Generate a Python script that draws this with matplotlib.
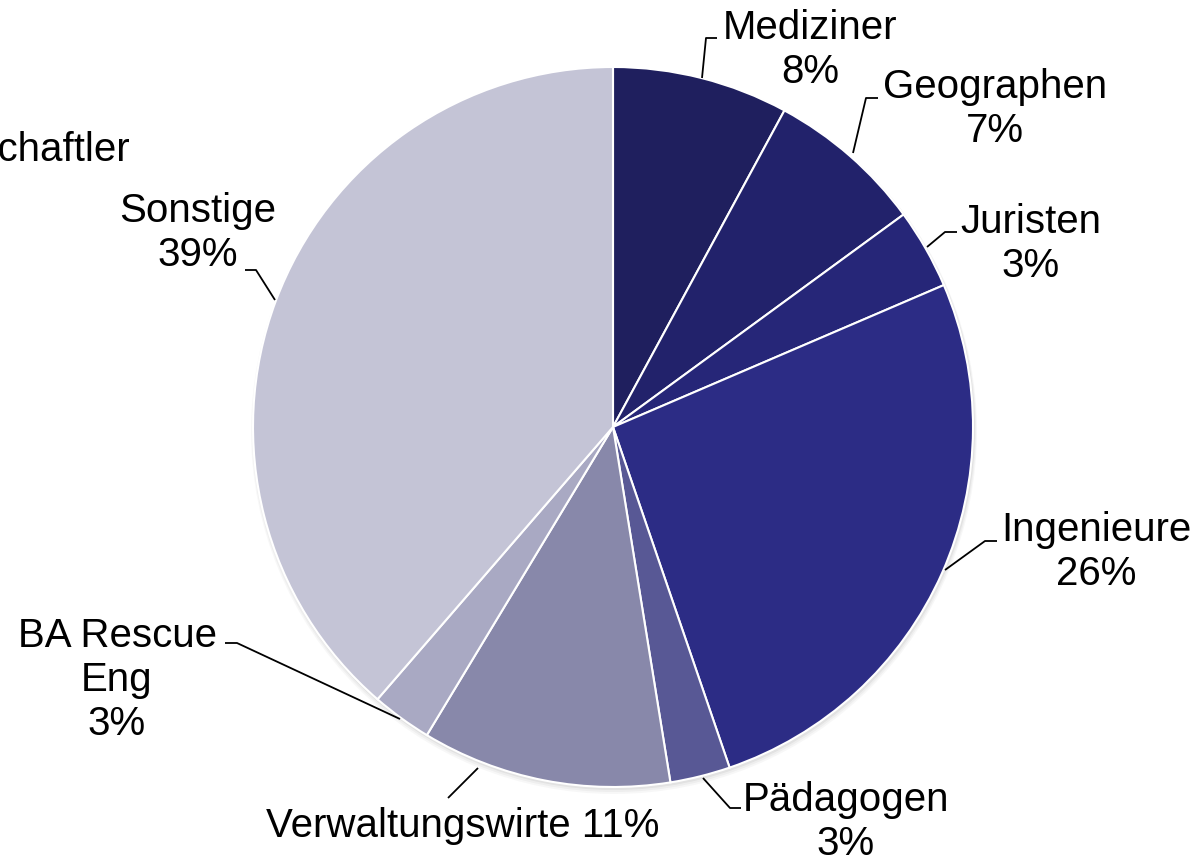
import matplotlib
matplotlib.use("Agg")
import matplotlib.pyplot as plt
from matplotlib.patches import Circle

plt.rcParams['font.family'] = ['Liberation Sans', 'DejaVu Sans']

categories = ["Mediziner", "Geographen", "Juristen", "Ingenieure", "Pädagogen",
              "Verwaltungswirte", "BA Rescue\nEng", "Sonstige"]
values = [7.9, 7.05, 3.6, 26.2, 2.7, 11.2, 2.7, 38.65]
percent_labels = ["8%", "7%", "3%", "26%", "3%", "11%", "3%", "39%"]
colors = ["#1F1F5E", "#22226B", "#262678", "#2C2C85", "#585895",
          "#8888AA", "#A9A9C3", "#C4C4D6"]
hidden_label = "Wissenschaftler"

W, H = 1200, 864
fig = plt.figure(figsize=(12, 8.64), dpi=100)
ax = fig.add_axes([0, 0, 1, 1])

cx, cy, r = 613, H - 427, 360

# soft shadow
for i, a in enumerate([0.10, 0.08, 0.06]):
    ax.add_patch(Circle((cx + 1, cy - 2 - i), r + 1 + i, color='#808080', alpha=a, lw=0, zorder=0))

ax.pie(values, colors=colors, startangle=90, counterclock=False,
       center=(cx, cy), radius=r, frame=True,
       wedgeprops=dict(edgecolor='white', linewidth=1.5))
ax.set_xlim(0, W)
ax.set_ylim(0, H)
ax.set_aspect('equal')
ax.axis('off')

fs = 29

def lab(text, x, y, ha='center'):
    ax.text(x, H - y, text, fontsize=fs, ha=ha, va='center', color='black',
            linespacing=1.2)

def leader(pts):
    xs = [p[0] for p in pts]
    ys = [H - p[1] for p in pts]
    ax.plot(xs, ys, color='black', lw=1.3, solid_capstyle='butt')

lab(f"{categories[0]}\n{percent_labels[0]}", 810, 50)
leader([(702, 78), (706, 38), (717, 38)])

lab(f"{categories[1]}\n{percent_labels[1]}", 995, 109)
leader([(853, 153), (866, 98), (878, 98)])

lab(f"{categories[2]}\n{percent_labels[2]}", 1031, 244)
leader([(927, 247), (945, 232), (957, 232)])

lab(f"{categories[3]}\n{percent_labels[3]}", 1096, 552)
leader([(945, 570), (985, 541), (997, 541)])

lab(f"{categories[4]}\n{percent_labels[4]}", 846, 822)
leader([(703, 778), (730, 808), (741, 808)])

lab(f"{categories[5]} {percent_labels[5]}", 463, 826)
leader([(478, 768), (448, 798)])

lab(f"{categories[6]}\n{percent_labels[6]}", 117, 680)
leader([(400, 719), (237, 643), (225, 643)])

lab(f"{categories[7]}\n{percent_labels[7]}", 198, 233)
leader([(275, 300), (256, 270), (245, 270)])

lab(hidden_label, 130, 150, ha='right')

fig.savefig("out.png", dpi=100)
